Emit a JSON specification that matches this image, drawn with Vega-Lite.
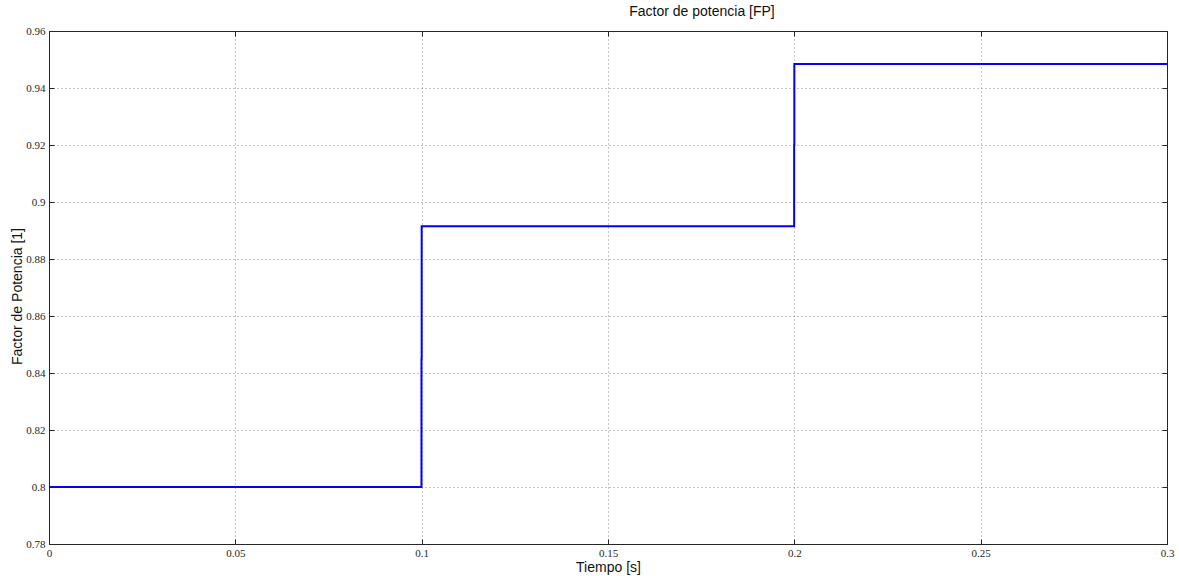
{
  "$schema": "https://vega.github.io/schema/vega-lite/v6.json",
  "width": 1118,
  "height": 513,
  "autosize": {"type": "none"},
  "padding": {"left": 49, "top": 31, "right": 12, "bottom": 32},
  "background": "white",
  "config": {
    "view": {"stroke": "#262626", "strokeWidth": 1},
    "font": "Liberation Sans"
  },
  "title": {
    "text": "Factor de potencia [FP]",
    "anchor": "middle",
    "dx": 94,
    "offset": 6,
    "font": "Liberation Sans",
    "fontSize": 14,
    "fontWeight": "normal",
    "color": "#111111"
  },
  "data": {
    "values": [
      {"t": 0, "fp": 0.8},
      {"t": 0.09995, "fp": 0.8},
      {"t": 0.09995, "fp": 0.845},
      {"t": 0.1, "fp": 0.845},
      {"t": 0.1, "fp": 0.8915},
      {"t": 0.19995, "fp": 0.8915},
      {"t": 0.19995, "fp": 0.92},
      {"t": 0.2, "fp": 0.92},
      {"t": 0.2, "fp": 0.9484},
      {"t": 0.3, "fp": 0.9484}
    ]
  },
  "layer": [
    {
      "mark": {"type": "line", "color": "#0000ff", "strokeWidth": 2, "clip": true},
      "encoding": {
        "x": {
          "field": "t",
          "type": "quantitative",
          "sort": null,
          "scale": {"domain": [0, 0.3], "nice": false, "zero": false},
          "axis": {
            "orient": "bottom",
            "values": [0, 0.05, 0.1, 0.15, 0.2, 0.25, 0.3],
            "format": "~g",
            "title": "Tiempo [s]",
            "titleFont": "Liberation Sans",
            "titleFontSize": 14,
            "titleFontWeight": "normal",
            "titleColor": "#111111",
            "titlePadding": 2,
            "labelFont": "Liberation Sans Narrow",
            "labelFontSize": 11,
            "labelColor": "#262626",
            "labelPadding": 8,
            "labelFlush": false,
            "labelOverlap": false,
            "labelBound": false,
            "tickSize": -5,
            "tickColor": "#262626",
            "domainColor": "#262626",
            "grid": true,
            "gridColor": "#888888",
            "gridDash": [1, 3],
            "gridWidth": 1
          }
        },
        "y": {
          "field": "fp",
          "type": "quantitative",
          "scale": {"domain": [0.78, 0.96], "nice": false, "zero": false},
          "axis": {
            "orient": "left",
            "values": [0.78, 0.8, 0.82, 0.84, 0.86, 0.88, 0.9, 0.92, 0.94, 0.96],
            "format": "~g",
            "title": "Factor de Potencia [1]",
            "titleFont": "Liberation Sans",
            "titleFontSize": 14,
            "titleFontWeight": "normal",
            "titleColor": "#111111",
            "titleX": -32,
            "titleY": 265,
            "titleAngle": -90,
            "titleAlign": "center",
            "titleBaseline": "middle",
            "labelFont": "Liberation Sans Narrow",
            "labelFontSize": 11,
            "labelColor": "#262626",
            "labelPadding": 9,
            "labelOverlap": false,
            "labelBound": false,
            "tickSize": -5,
            "tickColor": "#262626",
            "domainColor": "#262626",
            "grid": true,
            "gridColor": "#888888",
            "gridDash": [1, 3],
            "gridWidth": 1
          }
        }
      }
    },
    {
      "mark": {"type": "point", "opacity": 0},
      "encoding": {
        "x": {
          "field": "t",
          "type": "quantitative",
          "axis": {
            "orient": "top",
            "values": [0, 0.05, 0.1, 0.15, 0.2, 0.25, 0.3],
            "labels": false,
            "title": null,
            "grid": false,
            "tickSize": -5,
            "tickColor": "#262626",
            "domainColor": "#262626"
          }
        },
        "y": {
          "field": "fp",
          "type": "quantitative",
          "axis": {
            "orient": "right",
            "values": [0.78, 0.8, 0.82, 0.84, 0.86, 0.88, 0.9, 0.92, 0.94, 0.96],
            "labels": false,
            "title": null,
            "grid": false,
            "tickSize": -5,
            "tickColor": "#262626",
            "domainColor": "#262626"
          }
        }
      }
    }
  ]
}
